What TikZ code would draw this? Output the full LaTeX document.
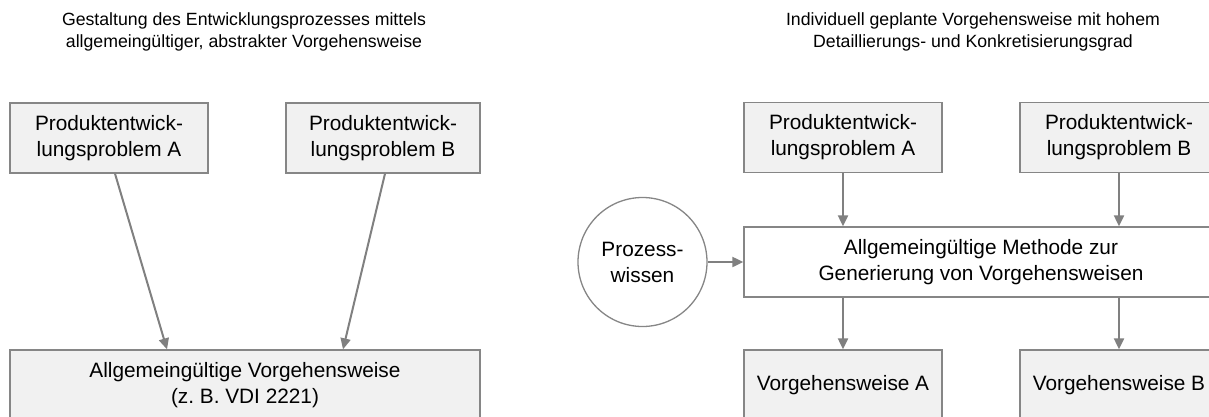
\documentclass[tikz,border=0pt]{standalone}
\usepackage{fontspec}
\setmainfont{Liberation Sans}
\usetikzlibrary{arrows.meta}
\definecolor{boxfill}{HTML}{F1F1F1}
\definecolor{edgegray}{HTML}{868686}
\definecolor{arrowgray}{HTML}{808080}
\begin{document}
\begin{tikzpicture}[x=1pt,y=-1pt,
  box/.style={draw=edgegray, line width=1.3pt, fill=boxfill,
    minimum width=198pt, minimum height=70pt, inner sep=0pt,
    align=center, font=\fontsize{20.8}{26}\selectfont},
  circ/.style={draw=edgegray, line width=1.3pt, fill=white, circle,
    minimum size=129pt, inner sep=0pt,
    align=center, font=\fontsize{20.8}{26}\selectfont},
  heading/.style={align=center, inner sep=0pt,
    font=\fontsize{17.7}{22.5}\selectfont},
  arr/.style={draw=arrowgray, line width=2pt,
    -{Triangle[length=11pt,width=10pt]}}
]
\useasboundingbox (0,0) rectangle (1209,416);

% left half: one general procedure for all problems
\node[heading] (t1) at (244,32)
  {Gestaltung des Entwicklungsprozesses mittels\\allgemeingültiger, abstrakter Vorgehensweise};
\node[box] (lA) at (109,138) {Produktentwick-\\lungsproblem A};
\node[box, minimum width=194pt] (lB) at (383,138) {Produktentwick-\\lungsproblem B};
\node[box, minimum width=470pt] (lV) at (245,385)
  {Allgemeingültige Vorgehensweise\\(z.~B. VDI 2221)};
\draw[arr] ([xshift=6pt]lA.south) -- ([xshift=-78pt]lV.north);
\draw[arr] ([xshift=2pt]lB.south) -- ([xshift=98pt]lV.north);

% right half: individually generated procedures
\node[heading] (t2) at (973,32)
  {Individuell geplante Vorgehensweise mit hohem\\Detaillierungs- und Konkretisierungsgrad};
\node[box] (rA) at (843,137.5) {Produktentwick-\\lungsproblem A};
\node[box] (rB) at (1119,137.5) {Produktentwick-\\lungsproblem B};
\node[box, fill=white, minimum width=474pt] (rM) at (981,262)
  {Allgemeingültige Methode zur\\Generierung von Vorgehensweisen};
\node[circ] (pw) at (642.5,262) {Prozess-\\wissen};
\node[box] (rVA) at (843,385) {Vorgehensweise A};
\node[box] (rVB) at (1119,385) {Vorgehensweise B};

\draw[arr] (rA.south) -- (rA.south |- rM.north);
\draw[arr] (rB.south) -- (rB.south |- rM.north);
\draw[arr] (pw.east) -- (rM.west);
\draw[arr] (rM.south -| rVA.north) -- (rVA.north);
\draw[arr] (rM.south -| rVB.north) -- (rVB.north);
\end{tikzpicture}
\end{document}
